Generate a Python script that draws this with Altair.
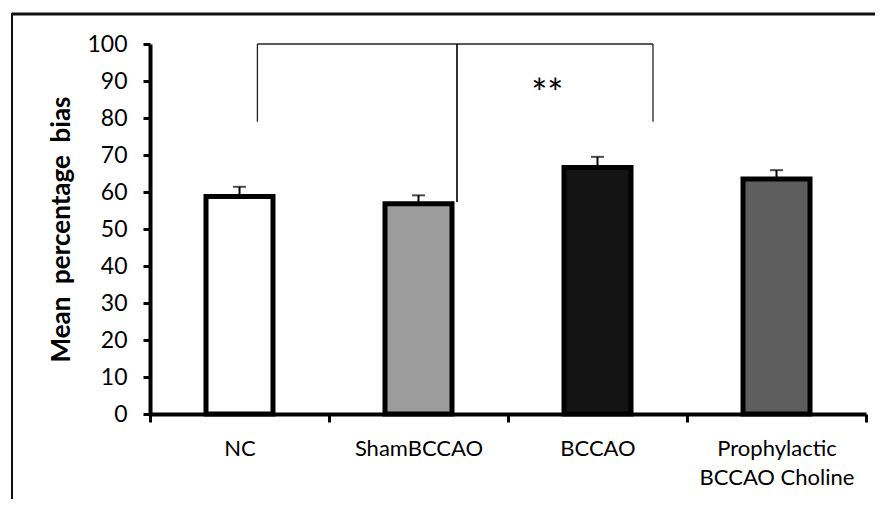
import altair as alt
import pandas as pd

categories = ["NC", "ShamBCCAO", "BCCAO", "Prophylactic BCCAO Choline"]
means = [58.8, 56.8, 66.6, 63.5]
errors = [2.6, 2.3, 2.9, 2.4]
fills = ["#ffffff", "#9c9c9c", "#141414", "#5e5e5e"]
y_ticks = list(range(0, 101, 10))

df = pd.DataFrame({"cat": categories, "mean": means, "err": errors, "fill": fills})
df["top"] = df["mean"] + df["err"]

FONT = "Lato"
x_scale = alt.Scale(domain=categories, paddingInner=0, paddingOuter=0)
y_scale = alt.Scale(domain=[0, 100], nice=False)

x_axis = alt.Axis(title=None, labelAngle=0, tickBand="extent", domainWidth=4,
                  domainColor="black", tickColor="black", tickWidth=3, tickSize=8,
                  labelFont=FONT, labelFontSize=22, labelColor="black",
                  labelPadding=16, labelLineHeight=29,
                  labelExpr="datum.label == 'Prophylactic BCCAO Choline' ? ['Prophylactic', 'BCCAO Choline'] : datum.label")
y_axis = alt.Axis(title="Mean\u00a0\u00a0percentage\u00a0\u00a0bias", values=y_ticks,
                  tickCount=11, labelOverlap=False, grid=False,
                  domainWidth=4, domainColor="black", tickColor="black",
                  tickWidth=3, tickSize=7, labelFont=FONT, labelFontSize=23,
                  labelColor="black", labelPadding=16, titleFont=FONT,
                  titleFontSize=26, titleFontWeight="bold", titleColor="black",
                  titlePadding=12)


def X(field, bp=None):
    if bp is None:
        return alt.X(field, scale=x_scale, sort=categories, axis=x_axis)
    return alt.X(field, scale=x_scale, sort=categories, axis=x_axis, bandPosition=bp)


def Y(field):
    return alt.Y(field, scale=y_scale, axis=y_axis)


base = alt.Chart(df)

bars = base.mark_bar(size=67, stroke="black", strokeWidth=5, strokeJoin="miter").encode(
    x=X("cat:N"), y=Y("mean:Q"), fill=alt.Fill("fill:N", scale=None))

err_rule = base.mark_rule(color="black", strokeWidth=2).encode(
    x=X("cat:N"), y=Y("mean:Q"), y2="top:Q")
err_cap = base.mark_tick(color="black", thickness=2, size=13).encode(
    x=X("cat:N"), y=Y("top:Q"))

# significance bracket
br_top = pd.DataFrame({"a": ["NC"], "b": ["BCCAO"], "y": [100]})
bracket_top = alt.Chart(br_top).mark_rule(color="#222", strokeWidth=1.3).encode(
    x=X("a:N", 0.6), x2=alt.X2("b:N", bandPosition=0.81), y=Y("y:Q"))
leg_df = pd.DataFrame({"cat": ["NC"], "y": [79], "y2": [100]})
leg_l = alt.Chart(leg_df).mark_rule(color="#222", strokeWidth=1.3).encode(
    x=X("cat:N", 0.6), y=Y("y:Q"), y2="y2:Q")
leg_r_df = pd.DataFrame({"cat": ["BCCAO"], "y": [79], "y2": [100]})
leg_r = alt.Chart(leg_r_df).mark_rule(color="#222", strokeWidth=1.3).encode(
    x=X("cat:N", 0.81), y=Y("y:Q"), y2="y2:Q")
mid_df = pd.DataFrame({"cat": ["ShamBCCAO"], "y": [57.3], "y2": [100]})
mid = alt.Chart(mid_df).mark_rule(color="black", strokeWidth=1.6).encode(
    x=X("cat:N", 0.715), y=Y("y:Q"), y2="y2:Q")
star_df = pd.DataFrame({"cat": ["BCCAO"], "y": [89.5], "t": ["**"]})
star = alt.Chart(star_df).mark_text(font=FONT, fontSize=38, color="black", baseline="middle", dy=13).encode(
    x=X("cat:N", 0.22), y=Y("y:Q"), text="t:N")

# outer frame
one = pd.DataFrame({"a": [0]})
frame_top = alt.Chart(one).mark_rule(color="#111", strokeWidth=3).encode(
    x=alt.value(-138), x2=alt.value(760), y=alt.value(-30))
frame_left = alt.Chart(one).mark_rule(color="#111", strokeWidth=2).encode(
    x=alt.value(-138), y=alt.value(-31), y2=alt.value(500))

chart = alt.layer(bars, err_rule, err_cap, bracket_top, leg_l, leg_r, mid, star,
                  frame_top, frame_left).properties(
    width=716, height=370,
    autosize=alt.AutoSizeParams(type="none"),
    padding={"left": 142, "top": 36, "right": 9, "bottom": 85},
    background="white",
).configure_view(stroke=None)

chart.save("out.html", embed_options={"renderer": "svg", "actions": False})
